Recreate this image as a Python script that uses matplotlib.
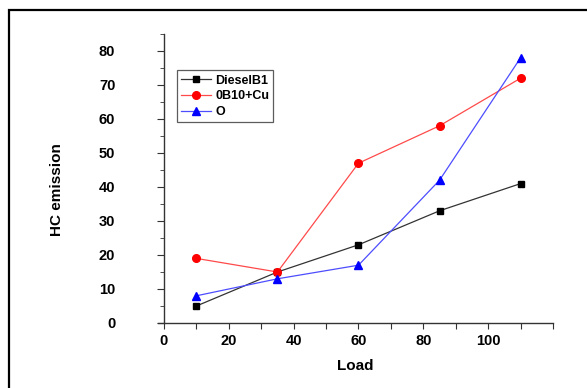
import matplotlib
matplotlib.use("Agg")
import matplotlib.pyplot as plt
from matplotlib.patches import Rectangle

load = [10, 35, 60, 85, 110]
diesel_b1 = [5, 15, 23, 33, 41]
b10_cu = [19, 15, 47, 58, 72]
o_series = [8, 13, 17, 42, 78]
labels = ["DieselB1", "0B10+Cu", "O"]

plt.rcParams['font.family'] = ['Liberation Sans', 'DejaVu Sans']
plt.rcParams['font.weight'] = 'bold'

fig = plt.figure(figsize=(5.87, 3.88), dpi=100)
fig.patches.append(Rectangle((9/587, -0.1), 1.2, 1 - 10/388 + 0.1, transform=fig.transFigure,
                             fill=False, edgecolor='black', linewidth=1.6))
ax = fig.add_axes([157.5/587, 1 - 323/388, (553 - 157.5)/587, (323 - 34)/388])

ax.plot(load, diesel_b1, color='#333333', lw=0.9, marker='s', ms=4.5, mfc='black', mec='black', label=labels[0])
ax.plot(load, b10_cu, color='#ff4a4a', lw=0.9, marker='o', ms=5.5, mfc='red', mec='red', label=labels[1])
ax.plot(load, o_series, color='#4d4dff', lw=0.9, marker='^', ms=6, mfc='blue', mec='blue', label=labels[2])

ax.set_xlim(-2, 120)
ax.set_ylim(0, 85)
ax.spines['left'].set_position(('data', 0))
ax.spines['top'].set_visible(False)
ax.spines['right'].set_visible(False)
for s in ['left', 'bottom']:
    ax.spines[s].set_color('#333333')
    ax.spines[s].set_linewidth(1.0)

ax.set_xticks(range(0, 121, 10))
ax.set_xticklabels([str(v) if (v % 20 == 0 and v <= 100) else '' for v in range(0, 121, 10)])
ax.set_yticks(range(0, 81, 10))
ax.set_yticks([5, 15, 25, 35, 45, 55, 65, 75, 85], minor=True)
ax.tick_params(axis='both', which='both', direction='out', color='#333333', labelsize=10.5)
ax.tick_params(axis='x', length=4, pad=4)
ax.tick_params(axis='y', which='major', length=5, pad=30)
ax.tick_params(axis='y', which='minor', length=3)
for t in ax.get_xticklabels() + ax.get_yticklabels():
    t.set_fontweight('bold')

ax.set_xlabel('Load', fontsize=11, fontweight='bold', labelpad=7.5)
ax.set_ylabel('HC emission', fontsize=11, fontweight='bold', labelpad=25)
ax.yaxis.label.set_y(0.46)

leg = ax.legend(loc='upper left', bbox_to_anchor=(0.049, 0.875), fontsize=9, frameon=True,
                fancybox=False, edgecolor='#333333', handlelength=2.4, borderpad=0.35,
                labelspacing=0.3, handletextpad=0.3, borderaxespad=0)
leg.get_frame().set_linewidth(0.9)
for t in leg.get_texts():
    t.set_fontweight('bold')

fig.savefig('out.png', dpi=100)
